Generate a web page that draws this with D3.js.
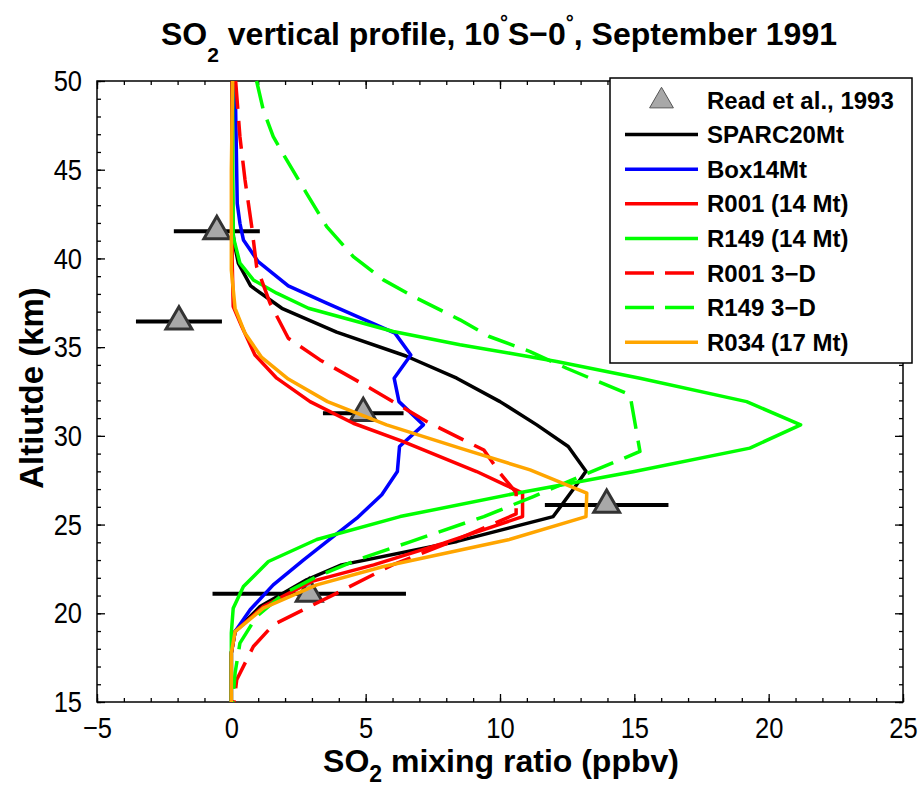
<!DOCTYPE html>
<html>
<head>
<meta charset="utf-8">
<script src="https://cdn.jsdelivr.net/npm/d3@7"></script>
<style>
body { margin: 0; background: #fff; }
text { font-family: "Liberation Sans", Arial, Helvetica, sans-serif; fill: #000; }
</style>
</head>
<body>
<script>
var w = 922;
var h = 787;

// profiles: [altitude km, SO2 ppbv]
var sparc20 = [[50,0.03],[44,0.04],[41.5,0.06],[40.86,0.11],[39.73,0.26],[38.45,0.72],[37.19,1.88],[35.85,3.92],[34.5,6.5],[33.25,8.39],[31.93,10.0],[30.62,11.37],[29.4,12.54],[28.0,13.2],[27.24,12.85],[25.45,11.98],[24.05,8.4],[22.73,4.1],[21.89,2.8],[20.38,1.07],[18.97,0.14],[17.76,0.0],[15,0.0]];
var box14 = [[50,0.1],[48.4,0.16],[43.1,0.22],[41.98,0.32],[41.04,0.45],[39.82,1.0],[38.45,2.12],[37.48,3.55],[35.79,6.09],[34.56,6.68],[33.25,6.06],[31.93,6.24],[30.62,7.15],[29.4,6.26],[27.99,6.18],[26.68,5.6],[25.36,4.67],[24.33,3.8],[23.0,2.68],[21.6,1.56],[20.2,0.7],[18.97,0.14],[17.76,0.0],[15,0.0]];
var r001 = [[50,0.03],[40,0.03],[37.29,0.07],[36.16,0.39],[34.56,0.88],[33.25,1.69],[31.93,2.93],[30.71,4.54],[29.68,6.4],[27.99,9.13],[27.24,10.19],[26.77,10.84],[25.45,10.84],[23.95,7.9],[22.73,5.3],[21.8,3.0],[20.38,1.19],[18.97,0.14],[17.76,0.0],[15,0.0]];
var r149 = [[50,0.05],[45,0.05],[41.23,0.07],[39.73,0.32],[38.79,0.82],[38.04,1.69],[37.19,2.87],[35.88,6.03],[35.13,8.51],[34.66,10.37],[34.19,12.11],[33.25,15.21],[31.93,19.18],[30.62,21.19],[29.31,19.3],[27.99,15.0],[26.77,10.62],[25.45,6.28],[24.16,3.18],[22.92,1.38],[21.51,0.45],[20.29,0.07],[18.88,0.0],[15,0.0]];
var r001_3d = [[50,0.16],[46.86,0.32],[44.42,0.51],[41.79,0.76],[39.54,0.94],[37.48,1.44],[35.5,2.12],[34.28,3.3],[32.59,5.28],[30.81,7.27],[29.2,9.4],[27.9,10.0],[26.8,10.6],[25.6,10.6],[24.1,8.3],[22.73,6.0],[21.32,4.17],[20.29,2.8],[19.35,1.56],[18.13,0.82],[16.25,0.2],[15,0.1]];
var r149_3d = [[50,0.94],[48.37,1.19],[46.86,1.56],[45.55,2.06],[43.67,2.8],[41.79,3.55],[40.1,4.54],[38.79,5.66],[37.85,6.78],[36.54,8.51],[35.6,9.6],[34.75,11.12],[33.81,12.48],[32.31,14.84],[29.12,15.21],[27.71,12.98],[26.58,11.24],[25.45,9.4],[24.0,6.6],[23.0,4.67],[22.07,3.18],[21.1,1.95],[19.82,0.94],[18.32,0.32],[16.63,0.14],[15,0.05]];
var r034 = [[50,0.05],[45,0.0],[39.35,0.0],[37.19,0.14],[35.78,0.51],[34.42,1.13],[33.2,2.12],[31.93,3.58],[30.62,5.78],[29.31,8.51],[28.08,11.12],[26.77,13.23],[25.45,13.2],[24.14,10.31],[22.64,5.66],[21.6,3.18],[20.29,1.19],[18.97,0.14],[17.76,0.0],[15,0.0]];

// Read et al., 1993 observations
var obsAlt = [41.53, 36.44, 31.28, 26.11, 21.1];
var obsVal = [-0.54, -1.95, 4.91, 13.97, 2.9];
var obsErr = [1.6, 1.6, 1.5, 2.3, 3.6];

var seriesNames = ["SPARC20Mt", "Box14Mt", "R001 (14 Mt)", "R149 (14 Mt)", "R001 3\u2212D", "R149 3\u2212D", "R034 (17 Mt)"];
var seriesData = [sparc20, box14, r001, r149, r001_3d, r149_3d, r034];
var seriesColors = ["#000000", "#0000ff", "#ff0000", "#00ff00", "#ff0000", "#00ff00", "#ffa500"];
var seriesDashed = [false, false, false, false, true, true, false];

var xTicks = [-5, 0, 5, 10, 15, 20, 25];
var yTicks = [15, 20, 25, 30, 35, 40, 45, 50];

var x = d3.scaleLinear().domain([-5, 25]).range([97, 903]);
var y = d3.scaleLinear().domain([15, 50]).range([702, 81]);

var svg = d3.select("body").append("svg").attr("width", w).attr("height", h);

// axes (ticks inward on all four sides)
var narrow = 0.85; // tick labels in the figure are a bit condensed
function styleAxis(g) {
    g.select(".domain").remove();
    g.selectAll(".tick line").attr("stroke", "#000").attr("stroke-width", 1.3);
    g.selectAll("text").style("font-size", "30px").style("font-family", null);
}
var minorX = d3.range(-5, 26, 1);
var minorY = d3.range(15, 51, 1);

svg.append("g").attr("transform", "translate(0,702)")
    .call(d3.axisBottom(x).tickValues(minorX).tickSize(-4).tickFormat(""))
    .call(styleAxis);
svg.append("g").attr("transform", "translate(0,702)")
    .call(d3.axisBottom(x).tickValues(xTicks).tickSize(-8).tickPadding(14.5).tickFormat(d3.format("")))
    .call(styleAxis)
    .selectAll("text").attr("transform", "scale(" + narrow + ",1)");
svg.append("g").attr("transform", "translate(0,81)")
    .call(d3.axisTop(x).tickValues(minorX).tickSize(-4).tickFormat(""))
    .call(styleAxis);
svg.append("g").attr("transform", "translate(0,81)")
    .call(d3.axisTop(x).tickValues(xTicks).tickSize(-8).tickFormat(""))
    .call(styleAxis);
svg.append("g").attr("transform", "translate(97,0)")
    .call(d3.axisLeft(y).tickValues(minorY).tickSize(-4).tickFormat(""))
    .call(styleAxis);
svg.append("g").attr("transform", "translate(97,0)")
    .call(d3.axisLeft(y).tickValues(yTicks).tickSize(-8).tickPadding(15))
    .call(styleAxis)
    .selectAll("text").attr("x", -15 / narrow).attr("transform", "scale(" + narrow + ",1)");
svg.append("g").attr("transform", "translate(903,0)")
    .call(d3.axisRight(y).tickValues(minorY).tickSize(-4).tickFormat(""))
    .call(styleAxis);
svg.append("g").attr("transform", "translate(903,0)")
    .call(d3.axisRight(y).tickValues(yTicks).tickSize(-8).tickFormat(""))
    .call(styleAxis);

svg.append("rect")
    .attr("x", x(-5)).attr("y", y(50))
    .attr("width", x(25) - x(-5)).attr("height", y(15) - y(50))
    .style("fill", "none").style("stroke", "#000").style("stroke-width", 1.5);

// observations with error bars
var obs = obsAlt.map(function(a, i) { return {alt: a, val: obsVal[i], err: obsErr[i]}; });
svg.selectAll("line.err")
    .data(obs)
    .enter()
    .append("line")
    .attr("class", "err")
    .attr("x1", function(d) { return x(d.val - d.err); })
    .attr("x2", function(d) { return x(d.val + d.err); })
    .attr("y1", function(d) { return y(d.alt); })
    .attr("y2", function(d) { return y(d.alt); })
    .style("stroke", "#000")
    .style("stroke-width", 4);

var tri = d3.symbol().type(d3.symbolTriangle).size(290);
svg.selectAll("path.obs")
    .data(obs)
    .enter()
    .append("path")
    .attr("class", "obs")
    .attr("d", tri)
    .attr("transform", function(d) { return "translate(" + x(d.val) + "," + y(d.alt) + ")"; })
    .style("fill", "#a8a8a8")
    .style("stroke", "#333")
    .style("stroke-width", 3)
    .style("stroke-linejoin", "miter");

// model profiles
var line = d3.line()
    .x(function(d) { return x(d[1]); })
    .y(function(d) { return y(d[0]); });

svg.selectAll("path.profile")
    .data(seriesData)
    .enter()
    .append("path")
    .attr("class", "profile")
    .attr("d", line)
    .style("fill", "none")
    .style("stroke", function(d, i) { return seriesColors[i]; })
    .style("stroke-width", 3.5)
    .style("stroke-linejoin", "round")
    .style("stroke-dasharray", function(d, i) { return seriesDashed[i] ? "28,12" : null; });

// legend
var leg = svg.append("g");
leg.append("rect")
    .attr("x", 610).attr("y", 78).attr("width", 302).attr("height", 285)
    .style("fill", "#fff").style("stroke", "#000").style("stroke-width", 1.5);

var rowY = function(i) { return 100 + i * 34.6; };

leg.append("path")
    .attr("d", d3.symbol().type(d3.symbolTriangle).size(245))
    .attr("transform", "translate(661.5," + (rowY(0) + 1) + ")")
    .style("fill", "#a8a8a8")
    .style("stroke", "#555")
    .style("stroke-width", 1);
leg.append("text")
    .attr("x", 707).attr("y", rowY(0) + 8.5)
    .style("font-size", "24px").style("font-weight", "bold")
    .text("Read et al., 1993");

seriesNames.forEach(function(name, i) {
    var yy = rowY(i + 1);
    leg.append("line")
        .attr("x1", 625).attr("x2", 698)
        .attr("y1", yy).attr("y2", yy)
        .style("stroke", seriesColors[i])
        .style("stroke-width", 3.5)
        .style("stroke-dasharray", seriesDashed[i] ? "29,11" : null);
    leg.append("text")
        .attr("x", 707).attr("y", yy + 8.5)
        .style("font-size", "24px").style("font-weight", "bold")
        .text(name);
});

// title
var title = svg.append("text")
    .attr("x", 499).attr("y", 45)
    .attr("text-anchor", "middle")
    .style("font-size", "32px").style("font-weight", "bold");
title.append("tspan").text("SO");
title.append("tspan").attr("dy", 17).style("font-size", "21px").text("2");
title.append("tspan").attr("dy", -17).text(" vertical profile, 10");
title.append("tspan").attr("dy", -16).style("font-size", "20px").text("\u00b0");
title.append("tspan").attr("dy", 16).text("S\u22120");
title.append("tspan").attr("dy", -16).style("font-size", "20px").text("\u00b0");
title.append("tspan").attr("dy", 16).text(", September 1991");

// x label
var xl = svg.append("text")
    .attr("x", 501).attr("y", 772)
    .attr("text-anchor", "middle")
    .style("font-size", "32px").style("font-weight", "bold");
xl.append("tspan").text("SO");
xl.append("tspan").attr("dy", 10).style("font-size", "23px").text("2");
xl.append("tspan").attr("dy", -10).text(" mixing ratio (ppbv)");

// y label
svg.append("text")
    .attr("transform", "translate(43,388) rotate(-90)")
    .attr("text-anchor", "middle")
    .style("font-size", "33px").style("font-weight", "bold")
    .text("Altiutde (km)");
</script>
</body>
</html>
